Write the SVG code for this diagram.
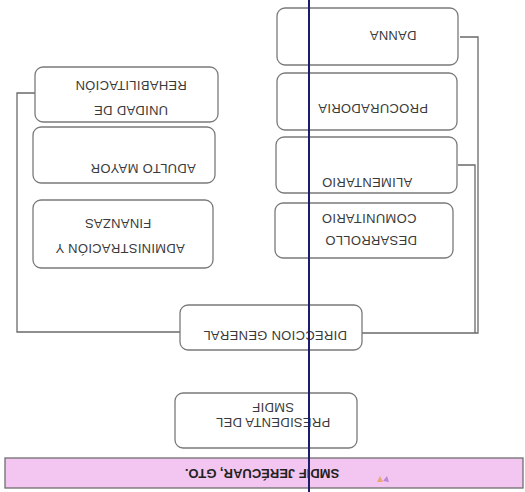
<svg xmlns="http://www.w3.org/2000/svg" width="525" height="492" viewBox="0 0 525 492">
<style>
.box{fill:#ffffff;stroke:#7a7a7a;stroke-width:1.3}
.t{font-family:"Liberation Sans",Arial,sans-serif;font-size:13px;fill:#3a3a3a;text-anchor:middle;dominant-baseline:central;letter-spacing:0.3px}
.conn{fill:none;stroke:#6a6a6a;stroke-width:1.3}
</style>
<rect width="525" height="492" fill="#ffffff"/>
<g id="connectors">
<path class="conn" d="M180,332 H17 V93 H35"/>
<path class="conn" d="M362,333 H478 V37 H460"/>
<path class="conn" d="M475,333 V165 H458"/>
</g>
<g id="header">
<rect x="5" y="458" width="518" height="30" fill="#f2c6f0" stroke="#6f6f6f" stroke-width="1.3"/>
<text x="262" y="473" transform="rotate(180 262 473)" style="font-family:'Liberation Sans',Arial,sans-serif;font-size:13px;font-weight:bold;fill:#222;text-anchor:middle;dominant-baseline:central">SMDIF JERÉCUAR, GTO.</text>
<path d="M377,482 l3,-6 l3,6 z" fill="#e89a3c" opacity="0.7"/>
<path d="M383,481 l4,-5 l2,6 z" fill="#9a5bc9" opacity="0.6"/>
</g>
<g id="presidenta">
<rect class="box" x="175" y="393" width="182" height="55" rx="8"/>
<text class="t" x="273" y="422" transform="rotate(180 273 422)">PRESIDENTA DEL</text>
<text class="t" x="273" y="407" transform="rotate(180 273 407)">SMDIF</text>
</g>
<g id="direccion">
<rect class="box" x="180" y="305" width="182" height="45" rx="8"/>
<text class="t" x="275" y="335" transform="rotate(180 275 335)">DIRECCION GENERAL</text>
</g>
<g id="danna">
<rect class="box" x="277" y="8" width="181" height="57" rx="8"/>
<text class="t" x="393" y="35" transform="rotate(180 393 35)">DANNA</text>
</g>
<g id="procuradoria">
<rect class="box" x="277" y="73" width="180" height="57" rx="8"/>
<text class="t" x="373" y="108" transform="rotate(180 373 108)">PROCURADORIA</text>
</g>
<g id="alimentario">
<rect class="box" x="276" y="137" width="181" height="56" rx="8"/>
<text class="t" x="367" y="182" transform="rotate(180 367 182)">ALIMENTARIO</text>
</g>
<g id="desarrollo">
<rect class="box" x="275" y="203" width="178" height="55" rx="8"/>
<text class="t" x="369" y="218" transform="rotate(180 369 218)">COMUNITARIO</text>
<text class="t" x="371" y="240" transform="rotate(180 371 240)">DESARROLLO</text>
</g>
<g id="unidad">
<rect class="box" x="35" y="67" width="183" height="55" rx="8"/>
<text class="t" x="131" y="85" transform="rotate(180 131 85)">REHABILITACIÓN</text>
<text class="t" x="131" y="110" transform="rotate(180 131 110)">UNIDAD DE</text>
</g>
<g id="adulto">
<rect class="box" x="33" y="127" width="182" height="56" rx="8"/>
<text class="t" x="143" y="168" transform="rotate(180 143 168)">ADULTO MAYOR</text>
</g>
<g id="administracion">
<rect class="box" x="33" y="200" width="180" height="68" rx="8"/>
<text class="t" x="118" y="223" transform="rotate(180 118 223)">FINANZAS</text>
<text class="t" x="120" y="248" transform="rotate(180 120 248)">ADMINISTRACIÓN Y</text>
</g>
<line x1="309" y1="0" x2="309" y2="492" stroke="#1c1c6b" stroke-width="2"/>
</svg>
